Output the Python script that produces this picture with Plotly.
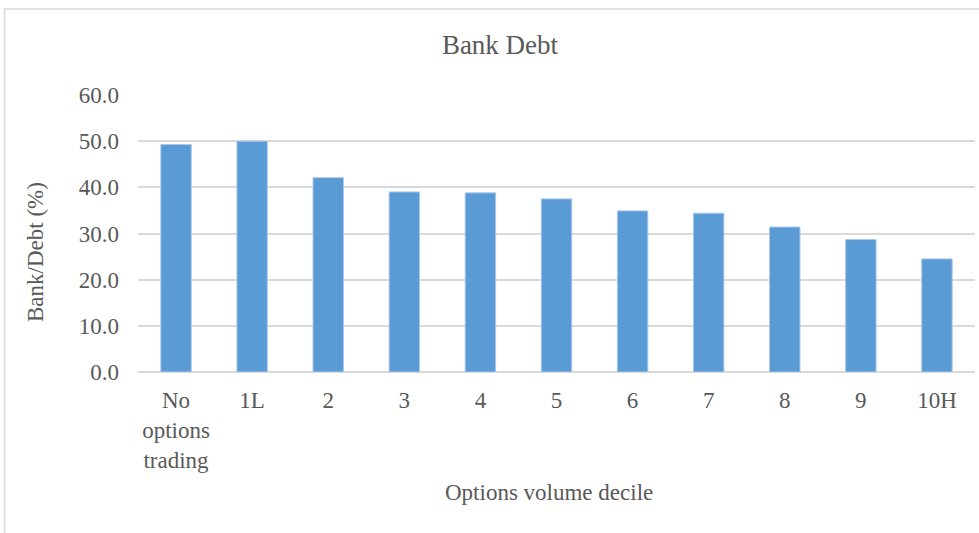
import plotly.graph_objects as go

categories = ["No<br>options<br>trading", "1L", "2", "3", "4", "5", "6", "7", "8", "9", "10H"]
values = [49.3, 50.0, 42.1, 39.0, 38.8, 37.5, 34.9, 34.4, 31.4, 28.7, 24.5]
y_ticks = [0, 10, 20, 30, 40, 50, 60]
y_tick_labels = ["0.0", "10.0", "20.0", "30.0", "40.0", "50.0", "60.0"]

W, H = 979, 533
L, R, T, B = 138, 4, 95, 161
pw, ph = W - L - R, H - T - B

font = "Liberation Serif, Times New Roman, serif"
txt = "#595959"
fs = 23

fig = go.Figure(go.Bar(
    x=categories, y=values,
    marker=dict(color="#5B9BD5", line=dict(color="#A9C8EA", width=1)),
    width=0.4,
))

fig.update_layout(
    width=W, height=H,
    margin=dict(l=L, r=R, t=T, b=B, autoexpand=False),
    plot_bgcolor="white", paper_bgcolor="white",
    showlegend=False,
    font=dict(family=font, color=txt, size=fs),
    title=dict(text="Bank Debt", x=500 / W, xanchor="center",
               y=1 - 45 / H, yanchor="middle", yref="container",
               font=dict(family=font, size=27, color=txt)),
    xaxis=dict(showgrid=False, showline=False, ticks="", tickfont=dict(size=fs, color=txt),
               ticklabelstandoff=12, automargin=False),
    yaxis=dict(range=[0, 60], tickvals=y_ticks, ticktext=y_tick_labels,
               showgrid=True, gridcolor="#D9D9D9", gridwidth=1.5,
               zeroline=True, zerolinecolor="#D9D9D9", zerolinewidth=1.5,
               showline=False, ticks="", tickfont=dict(size=fs, color=txt),
               ticklabelstandoff=18, automargin=False),
    annotations=[
        dict(text="Options volume decile", xref="paper", yref="paper",
             x=(549 - L) / pw, y=-(492 - (T + ph)) / ph, xanchor="center", yanchor="middle",
             showarrow=False, font=dict(family=font, size=fs, color=txt)),
        dict(text="Bank/Debt (%)", xref="paper", yref="paper", textangle=-90,
             x=-(L - 35) / pw, y=(T + ph - 252) / ph, xanchor="center", yanchor="middle",
             showarrow=False, font=dict(family=font, size=fs, color=txt)),
    ],
    shapes=[
        dict(type="rect", xref="paper", yref="paper",
             x0=-(L - 4.5) / pw, x1=(W + 20 - L) / pw,
             y0=-(H + 20 - T - ph) / ph, y1=(T + ph - 9) / ph,
             line=dict(color="#D9D9D9", width=1.5), layer="below"),
    ],
)

fig.write_html("out.html", config={"displayModeBar": False},
               post_script="document.body.style.margin='0';document.body.style.overflow='hidden';")
